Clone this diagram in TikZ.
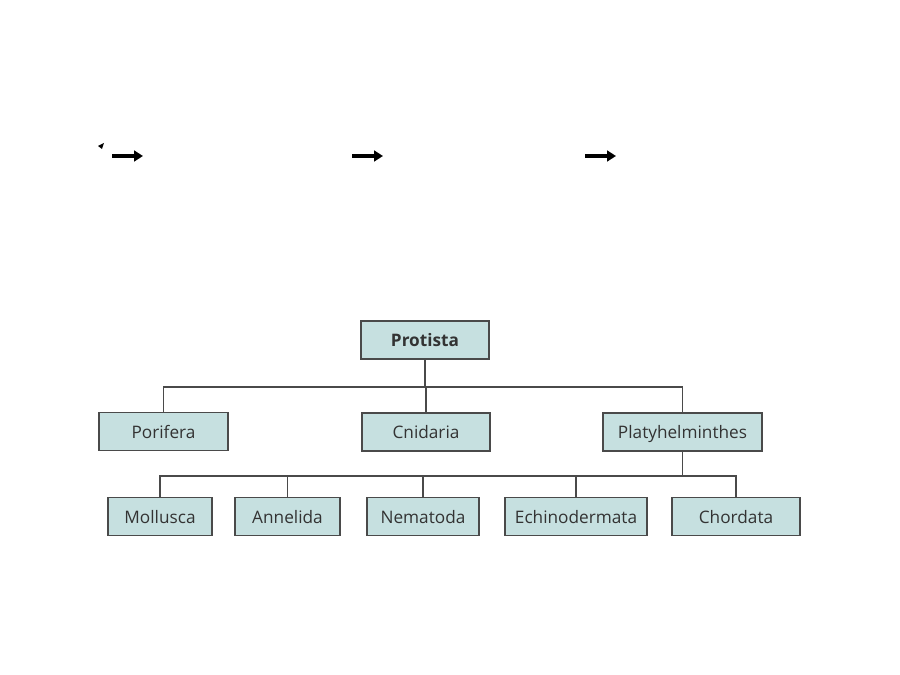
\documentclass[tikz,border=0pt]{standalone}
\usepackage{fontspec}
\setmainfont{Open Sans}
\usepackage{tikz}
\usetikzlibrary{arrows.meta,positioning}
\definecolor{BoxTeal}{HTML}{C6E0E0}
\definecolor{BoxEdge}{HTML}{4A4A4A}
\definecolor{TextDark}{HTML}{333333}
\tikzset{
  taxon/.style={draw=BoxEdge, line width=1pt, fill=BoxTeal, text=TextDark,
    font=\fontsize{9.8}{12}\selectfont, inner sep=0pt, minimum height=0.76cm,
    text height=1.9ex, text depth=0.45ex},
  link/.style={draw=BoxEdge, line width=0.8pt},
  slidearrow/.style={line width=1.8pt, -{Triangle[length=5pt,width=6pt]}}
}

\begin{document}
\begin{tikzpicture}[x=0.02cm, y=-0.02cm]
      \useasboundingbox (0,0) rectangle (900,675);
      % Leftover slide arrows
      \fill (98,146) -- (104,143) -- (102,149) -- cycle;
      \coordinate (a1s) at (112,156); \coordinate (a1e) at (143,156);
      \coordinate (a2s) at (352,156); \coordinate (a2e) at (383,156);
      \coordinate (a3s) at (585,156); \coordinate (a3e) at (616,156);
      \draw[slidearrow] (a1s) -- (a1e);
      \draw[slidearrow] (a2s) -- (a2e);
      \draw[slidearrow] (a3s) -- (a3e);

      % Top level
      \node[taxon, minimum width=2.56cm, font=\fontsize{9.8}{12}\selectfont\bfseries] (protista) at (425,340) {Protista};

      % Second level
      \node[taxon, minimum width=2.58cm] (porifera) at (163.5,431.5) {Porifera};
      \node[taxon, minimum width=2.56cm] (cnidaria) at (426,432) {Cnidaria};
      \node[taxon, minimum width=3.18cm] (platy) at (682.5,432) {Platyhelminthes};

      % Third level
      \node[taxon, minimum width=2.08cm] (mollusca) at (160,516.5) {Mollusca};
      \node[taxon, minimum width=2.10cm] (annelida) at (287.5,516.5) {Annelida};
      \node[taxon, minimum width=2.24cm] (nematoda) at (423,516.5) {Nematoda};
      \node[taxon, minimum width=2.84cm] (echino) at (576,516.5) {Echinodermata};
      \node[taxon, minimum width=2.56cm] (chordata) at (736,516.5) {Chordata};

      % Tree links
      \coordinate (bus1) at (425,387);
      \coordinate (bus2) at (682.5,476);
      \draw[link] (protista.south) -- (bus1);
      \draw[link] (porifera.north) |- (bus1);
      \draw[link] (cnidaria.north) |- (bus1);
      \draw[link] (platy.north) |- (bus1);
      \draw[link] (platy.south) -- (bus2);
      \draw[link] (mollusca.north) |- (bus2);
      \draw[link] (annelida.north) |- (bus2);
      \draw[link] (nematoda.north) |- (bus2);
      \draw[link] (echino.north) |- (bus2);
      \draw[link] (chordata.north) |- (bus2);
    \end{tikzpicture}
\end{document}
